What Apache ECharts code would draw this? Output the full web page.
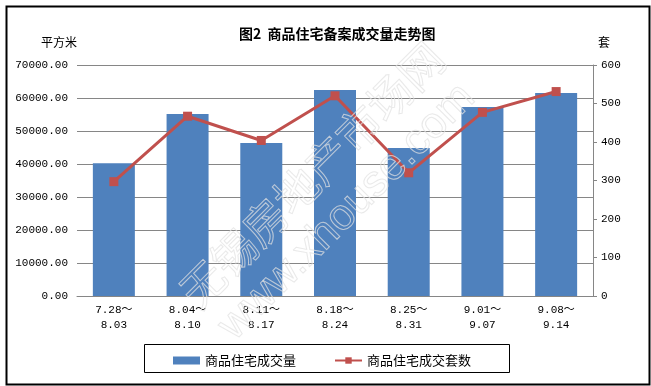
<!DOCTYPE html>
<html>
<head>
<meta charset="utf-8">
<script src="https://cdn.jsdelivr.net/npm/echarts@6/dist/echarts.min.js"></script>
<style>
html,body{margin:0;padding:0;background:#fff;}
#c{width:651px;height:386px;}
</style>
</head>
<body>
<div id="c"></div>
<script>
const categories = ["7.28～\n8.03","8.04～\n8.10","8.11～\n8.17","8.18～\n8.24","8.25～\n8.31","9.01～\n9.07","9.08～\n9.14"];
const areaValues = [40200, 55150, 46350, 62400, 44850, 57250, 61500];
const unitValues = [297, 467, 404, 520, 320, 477, 531];
const areaName = "商品住宅成交量";
const unitName = "商品住宅成交套数";
const titleText = "图2  商品住宅备案成交量走势图";

const chart = echarts.init(document.getElementById('c'), null, {renderer:'canvas'});
const monoFont = '"Liberation Mono","DejaVu Sans Mono","Noto Sans CJK SC",monospace';
const cjk = '"Noto Sans CJK SC",sans-serif';
chart.setOption({
  backgroundColor:'#fff',
  animation:false,
  title:{
    text:titleText, left:234, top:22,
    textStyle:{fontFamily:cjk, fontSize:14, fontWeight:'bold', color:'#000'}
  },
  grid:{left:77, right:58, top:65, bottom:90},
  legend:{
    left:168, top:349, itemWidth:27, itemHeight:8, itemGap:38,
    textStyle:{fontFamily:cjk, fontSize:13, color:'#000'},
    data:[{name:areaName, icon:'rect'}, {name:unitName}]
  },
  xAxis:{
    type:'category', data:categories,
    axisLine:{lineStyle:{color:'#868686', width:1}},
    axisTick:{show:false},
    axisLabel:{color:'#000', fontFamily:monoFont, fontSize:11, lineHeight:15, margin:7, interval:0}
  },
  yAxis:[
    {type:'value', min:0, max:70000, interval:10000,
     axisLine:{show:false}, axisTick:{show:false},
     splitLine:{lineStyle:{color:'#868686', width:1}},
     axisLabel:{color:'#000', fontFamily:monoFont, fontSize:11, margin:9,
       formatter:v=>v.toFixed(2)}},
    {type:'value', min:0, max:600, interval:100, position:'right',
     axisLine:{show:true, lineStyle:{color:'#868686', width:1}},
     axisTick:{show:true, length:4, lineStyle:{color:'#868686'}},
     splitLine:{show:false},
     axisLabel:{color:'#000', fontFamily:monoFont, fontSize:11, margin:8}}
  ],
  series:[
    {name:areaName, type:'bar', data:areaValues, barWidth:42,
     itemStyle:{color:'#4F81BD'}},
    {name:unitName, type:'line', yAxisIndex:1, data:unitValues,
     symbol:'rect', symbolSize:9, z:5,
     itemStyle:{color:'#C0504D'}, lineStyle:{color:'#C0504D', width:3}}
  ],
  graphic:[
    {type:'rect', left:4, top:4, z:-1, silent:true,
     shape:{width:643, height:378},
     style:{fill:'none', stroke:'#000', lineWidth:2}},
    {type:'rect', left:142, top:342, silent:true,
     shape:{width:365, height:28},
     style:{fill:'none', stroke:'#000', lineWidth:1}},
    {type:'text', left:41, top:36, silent:true,
     style:{text:'平方米', fontFamily:cjk, fontSize:12, fill:'#000'}},
    {type:'text', left:598, top:36, silent:true,
     style:{text:'套', fontFamily:cjk, fontSize:12, fill:'#000'}},
    {type:'text', x:312, y:175, rotation:Math.PI/4, silent:true, z:100,
     style:{text:'无锡房地产市场网', fontFamily:cjk, fontSize:44, fill:'none',
       stroke:'rgba(225,225,225,0.75)', lineWidth:1, align:'center', verticalAlign:'middle'}},
    {type:'text', x:347, y:212, rotation:Math.PI/4, silent:true, z:100,
     style:{text:'www.xhouse.com', fontFamily:'"Liberation Sans",Arial,sans-serif', fontSize:44, fill:'none',
       stroke:'rgba(225,225,225,0.75)', lineWidth:1, align:'center', verticalAlign:'middle'}}
  ]
});
</script>
</body>
</html>
